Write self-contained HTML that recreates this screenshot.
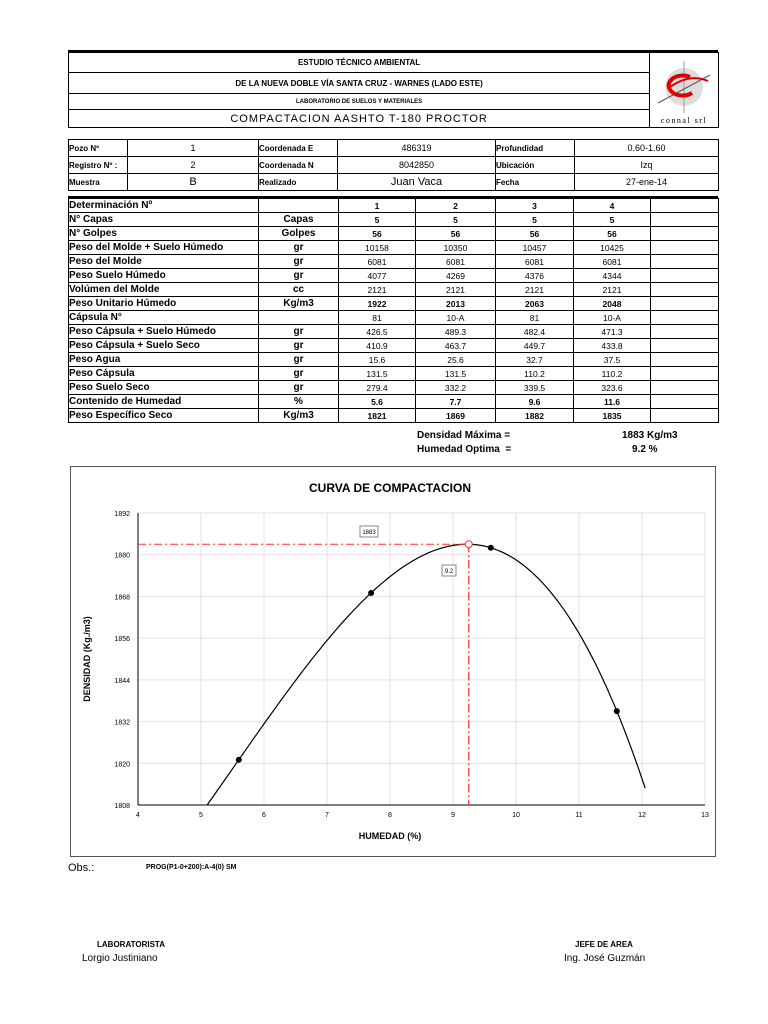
<!DOCTYPE html>
<html><head><meta charset="utf-8"><style>
body{margin:0;width:768px;height:1024px;background:#fff;font-family:"Liberation Sans",Arial,sans-serif;position:relative;overflow:hidden;color:#000}
.a{position:absolute}
table{border-collapse:collapse;position:absolute}
td{border:1px solid #000;padding:0;font-size:9px;white-space:nowrap}
.b{font-weight:bold}
.c{text-align:center}
#mt td{height:13px;line-height:12px}
</style></head><body>
<div class="a" style="left:68px;top:50px;width:650px;height:2px;background:#000"></div>
<table style="left:68px;top:52px;width:651px">
<tr style="height:20px"><td class="b c" style="font-size:8px;width:581px">ESTUDIO TÉCNICO AMBIENTAL</td><td rowspan="4" style="width:68px;position:relative;vertical-align:bottom">
<svg width="68" height="74" style="position:absolute;left:0;top:0">
<circle cx="34" cy="34" r="19" fill="#ddd"/><line x1="34" y1="8" x2="34" y2="60" stroke="#999"/><line x1="8" y1="50" x2="60" y2="22" stroke="#555"/>
<path d="M40 24 A14 10 0 1 0 42 40" fill="none" stroke="#d00" stroke-width="4"/><path d="M20 34 Q40 20 58 28" fill="none" stroke="#d00" stroke-width="2"/>
<text x="34" y="70" font-size="8" text-anchor="middle" font-family="Liberation Serif" letter-spacing="1.5">connal srl</text></svg></td></tr>
<tr style="height:21px"><td class="b c" style="font-size:8px">DE LA NUEVA DOBLE VÍA SANTA CRUZ - WARNES (LADO ESTE)</td></tr>
<tr style="height:16px"><td class="b c" style="font-size:6px">LABORATORIO DE SUELOS Y MATERIALES</td></tr>
<tr style="height:18px"><td class="c" style="font-size:11px;letter-spacing:1px">COMPACTACION AASHTO T-180 PROCTOR</td></tr>
</table>
<table style="left:68px;top:139px;width:651px">
<tr style="height:17px"><td class="b" style="width:58px;font-size:8px">Pozo Nº</td><td class="c" style="width:130px">1</td><td class="b" style="width:78px;font-size:8px">Coordenada E</td><td class="c" style="width:157px">486319</td><td class="b" style="width:78px;font-size:8px">Profundidad</td><td class="c">0.60-1.60</td></tr>
<tr style="height:17px"><td class="b" style="font-size:8px">Registro Nº :</td><td class="c">2</td><td class="b" style="font-size:8px">Coordenada N</td><td class="c">8042850</td><td class="b" style="font-size:8px">Ubicación</td><td class="c">Izq</td></tr>
<tr style="height:17px"><td class="b" style="font-size:8px">Muestra</td><td class="c" style="font-size:11px">B</td><td class="b" style="font-size:8px">Realizado</td><td class="c" style="font-size:11px">Juan Vaca</td><td class="b" style="font-size:8px">Fecha</td><td class="c">27-ene-14</td></tr>
</table>
<div class="a" style="left:68px;top:196px;width:650px;height:2px;background:#000"></div>
<table style="left:68px;top:198px;width:651px;font-size:9px">
<colgroup><col style="width:190px"><col style="width:80px"><col style="width:77px"><col style="width:80px"><col style="width:78px"><col style="width:77px"><col></colgroup>
<tbody id="mt"></tbody></table>
<div class="a b" style="left:417px;top:430px;font-size:10px">Densidad Máxima =</div>
<div class="a b" style="left:417px;top:444px;font-size:10px">Humedad Optima&nbsp; =</div>
<div class="a b" style="left:622px;top:430px;font-size:10px">1883 Kg/m3</div>
<div class="a b" style="left:632px;top:444px;font-size:10px">9.2 %</div>
<div class="a" style="left:70px;top:466px;width:644px;height:389px;border:1px solid #555"></div>
<svg class="a" style="left:0;top:0" width="768" height="1024" id="ch" font-family="Liberation Sans">
<text x="390" y="492" font-size="12" font-weight="bold" text-anchor="middle">CURVA DE COMPACTACION</text>
<text x="390" y="839" font-size="9" font-weight="bold" text-anchor="middle">HUMEDAD (%)</text>
<text transform="translate(90,659) rotate(-90)" font-size="9" font-weight="bold" text-anchor="middle">DENSIDAD (Kg./m3)</text>
</svg>
<div class="a" style="left:68px;top:862px;font-size:11px">Obs.:</div>
<div class="a b" style="left:146px;top:864px;font-size:7px">PROG(P1-0+200):A-4(0) SM</div>
<div class="a b" style="left:97px;top:940px;font-size:8px">LABORATORISTA</div>
<div class="a" style="left:82px;top:953px;font-size:10px">Lorgio Justiniano</div>
<div class="a b" style="left:575px;top:940px;font-size:8px">JEFE DE AREA</div>
<div class="a" style="left:564px;top:953px;font-size:10px">Ing. José Guzmán</div>
<script>
var rows=[["Determinación Nº","","1","2","3","4",1],["N° Capas","Capas","5","5","5","5",1],["N° Golpes","Golpes","56","56","56","56",1],
["Peso del Molde + Suelo Húmedo","gr","10158","10350","10457","10425",0],["Peso del Molde","gr","6081","6081","6081","6081",0],
["Peso Suelo Húmedo","gr","4077","4269","4376","4344",0],["Volúmen del Molde","cc","2121","2121","2121","2121",0],
["Peso Unitario Húmedo","Kg/m3","1922","2013","2063","2048",1],["Cápsula N°","","81","10-A","81","10-A",0],
["Peso Cápsula + Suelo Húmedo","gr","426.5","489.3","482.4","471.3",0],["Peso Cápsula + Suelo Seco","gr","410.9","463.7","449.7","433.8",0],
["Peso Agua","gr","15.6","25.6","32.7","37.5",0],["Peso Cápsula","gr","131.5","131.5","110.2","110.2",0],
["Peso Suelo Seco","gr","279.4","332.2","339.5","323.6",0],["Contenido de Humedad","%","5.6","7.7","9.6","11.6",1],["Peso Específico Seco","Kg/m3","1821","1869","1882","1835",1]];
var h="";rows.forEach(function(r){h+='<tr><td class="b" style="font-size:10px">'+r[0]+'</td><td class="b c" style="font-size:10px">'+r[1]+'</td>';
for(var i=2;i<6;i++)h+='<td class="c'+(r[6]?' b':'')+'" style="font-size:8.5px">'+r[i]+'</td>';h+='<td></td></tr>';});
document.getElementById("mt").innerHTML=h;
var s="",X=function(v){return 138+(v-4)*63},Y=function(v){return 513+(1892-v)*292/84};
for(var v=1808;v<=1892;v+=12){s+='<line x1="138" x2="705" y1="'+Y(v)+'" y2="'+Y(v)+'" stroke="#e2e2e2"/>';s+='<text x="130" y="'+(Y(v)+3)+'" font-size="7" text-anchor="end">'+v+'</text>';}
for(var x=4;x<=13;x++){s+='<line y1="513" y2="805" x1="'+X(x)+'" x2="'+X(x)+'" stroke="#e2e2e2"/>';s+='<text y="817" x="'+X(x)+'" font-size="7" text-anchor="middle">'+x+'</text>';}
s+='<line x1="138" y1="513" x2="138" y2="805" stroke="#000"/><line x1="138" y1="805" x2="705" y2="805" stroke="#000"/>';
var px=[5.6,7.7,9.6,11.6],py=[1821,1869,1882,1835];
function L(t){var r=0;for(var i=0;i<4;i++){var p=py[i];for(var j=0;j<4;j++)if(j!=i)p*=(t-px[j])/(px[i]-px[j]);r+=p;}return r;}
var d="";for(var t=5.0;t<=12.1;t+=0.05){var yy=L(t);if(yy<1808)continue;d+=(d?"L":"M")+X(t).toFixed(1)+" "+Y(yy).toFixed(1);}
s+='<path d="'+d+'" fill="none" stroke="#000" stroke-width="1.2"/>';
px.forEach(function(a,i){s+='<circle cx="'+X(a)+'" cy="'+Y(py[i])+'" r="3" fill="#000"/>';});
s+='<line x1="138" y1="'+Y(1883)+'" x2="'+X(9.25)+'" y2="'+Y(1883)+'" stroke="#f33" stroke-dasharray="8,3,2,3"/>';
s+='<line x1="'+X(9.25)+'" y1="'+Y(1883)+'" x2="'+X(9.25)+'" y2="805" stroke="#f33" stroke-width="1.3" stroke-dasharray="8,3,2,3"/>';
s+='<circle cx="'+X(9.25)+'" cy="'+Y(1883)+'" r="3.5" fill="#fff" stroke="#f33"/>';
s+='<rect x="360" y="526" width="18" height="11" fill="#fff" stroke="#888"/><text x="369" y="534" font-size="6" text-anchor="middle">1883</text>';
s+='<rect x="442" y="565" width="14" height="11" fill="#fff" stroke="#888"/><text x="449" y="573" font-size="6" text-anchor="middle">9.2</text>';
document.getElementById("ch").insertAdjacentHTML("beforeend",s);
</script>
</body></html>
